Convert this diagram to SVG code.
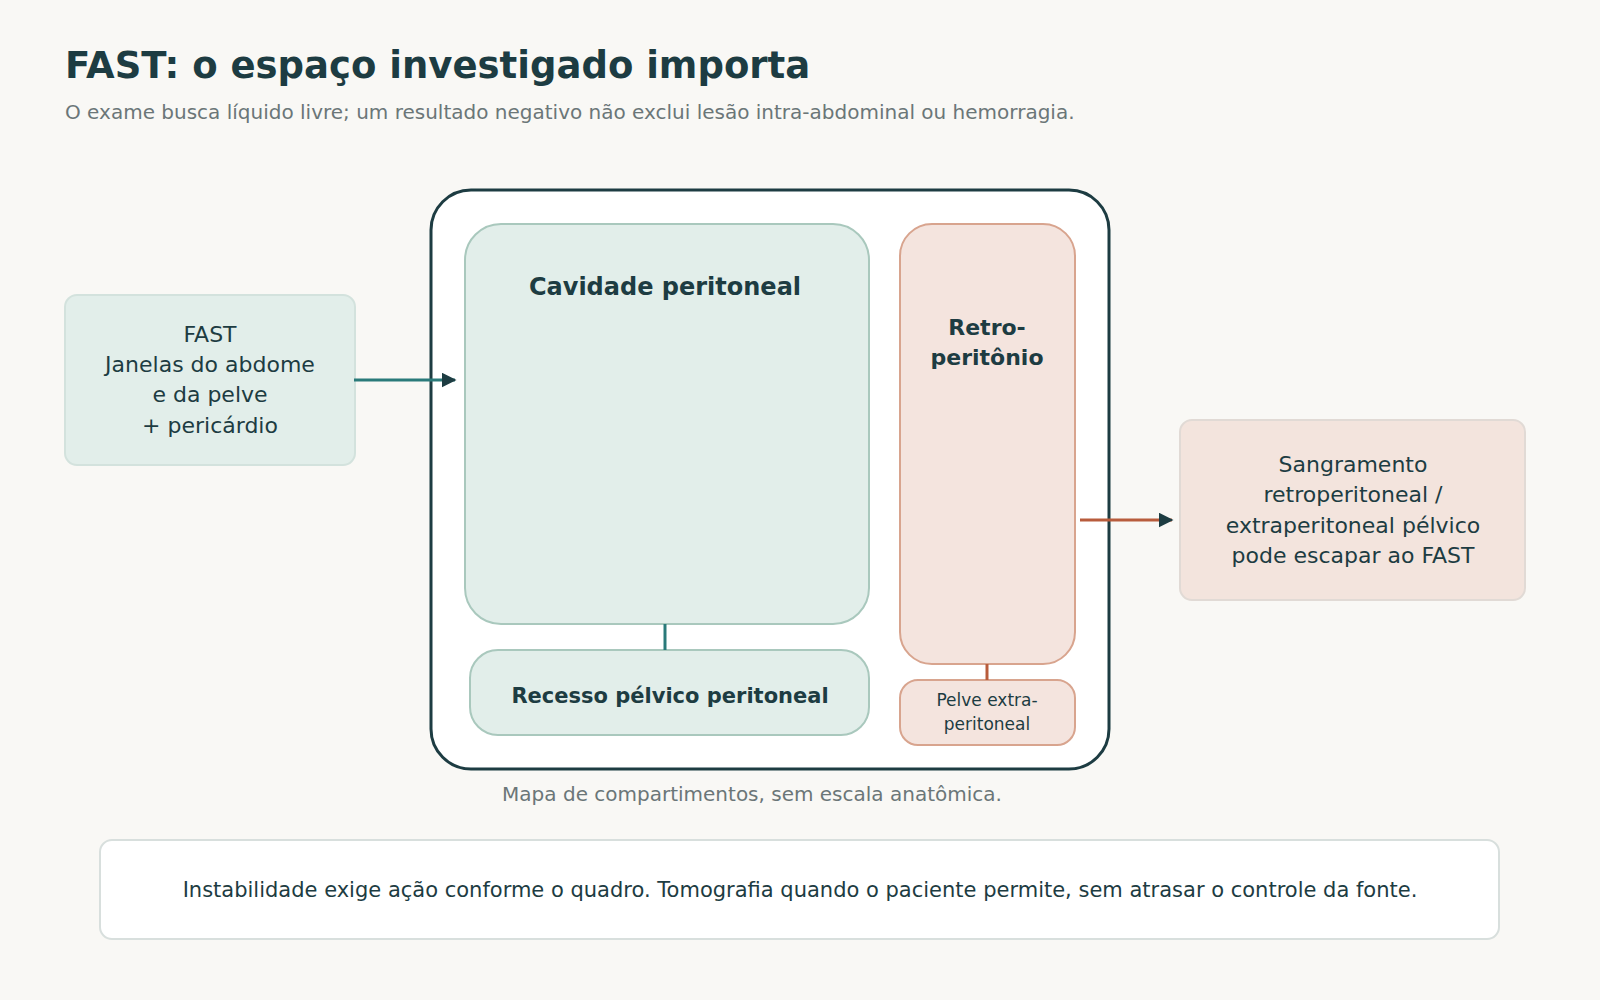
<svg xmlns="http://www.w3.org/2000/svg" width="1600" height="1000" viewBox="0 0 1600 1000">
<defs>
<style>
text{font-family:"DejaVu Sans","Noto Sans",sans-serif;fill:#1d3c42}
.b{font-weight:bold}
.c{text-anchor:middle}
.g{fill:#6b7678}
.teal{fill:#e2eeea;stroke:#a9c8bd;stroke-width:2}
.rose{fill:#f4e4de;stroke:#d8a48e;stroke-width:2}
</style>
<marker id="at" viewBox="0 0 10 10" refX="9" refY="5" markerWidth="5" markerHeight="5" orient="auto"><path d="M0,0L10,5L0,10z" fill="#1d3c42"/></marker>
</defs>
<rect width="1600" height="1000" fill="#f9f8f5"/>
<text x="65" y="78" class="b" font-size="37">FAST: o espaço investigado importa</text>
<text x="65" y="119" class="g" font-size="20">O exame busca líquido livre; um resultado negativo não exclui lesão intra-abdominal ou hemorragia.</text>
<g id="outer"><rect x="431" y="190" width="678" height="579" rx="40" fill="#fff" stroke="#1d3c42" stroke-width="3"/></g>
<g id="cavidade"><rect x="465" y="224" width="404" height="400" rx="36" class="teal"/><text x="665" y="295" class="b c" font-size="24">Cavidade peritoneal</text></g>
<g id="recesso"><rect x="470" y="650" width="399" height="85" rx="28" class="teal"/><text x="670" y="703" class="b c" font-size="21">Recesso pélvico peritoneal</text></g>
<g id="retro"><rect x="900" y="224" width="175" height="440" rx="32" class="rose"/><text x="987" y="335" class="b c" font-size="22">Retro-</text><text x="987" y="365" class="b c" font-size="22">peritônio</text></g>
<g id="pelve"><rect x="900" y="680" width="175" height="65" rx="18" class="rose"/><text x="987" y="706" class="c" font-size="17">Pelve extra-</text><text x="987" y="730" class="c" font-size="17">peritoneal</text></g>
<g id="fast"><rect x="65" y="295" width="290" height="170" rx="12" fill="#e2eeea" stroke="#d3e2dd" stroke-width="2"/>
<text class="c" font-size="22"><tspan x="210" y="342">FAST</tspan><tspan x="210" y="372">Janelas do abdome</tspan><tspan x="210" y="402">e da pelve</tspan><tspan x="210" y="433">+ pericárdio</tspan></text></g>
<g id="sangramento"><rect x="1180" y="420" width="345" height="180" rx="12" fill="#f3e4dd" stroke="#e1dad5" stroke-width="2"/>
<text class="c" font-size="22"><tspan x="1353" y="472">Sangramento</tspan><tspan x="1353" y="502">retroperitoneal /</tspan><tspan x="1353" y="533">extraperitoneal pélvico</tspan><tspan x="1353" y="563">pode escapar ao FAST</tspan></text></g>
<g id="connectors" fill="none" stroke-width="3">
<line x1="354" y1="380" x2="455" y2="380" stroke="#2a7a7a" marker-end="url(#at)"/>
<line x1="1080" y1="520" x2="1172" y2="520" stroke="#b85c3c" marker-end="url(#at)"/>
<line x1="665" y1="624" x2="665" y2="650" stroke="#2a7a7a"/>
<line x1="987" y1="664" x2="987" y2="680" stroke="#b85c3c"/>
</g>
<text x="752" y="801" class="g c" font-size="20">Mapa de compartimentos, sem escala anatômica.</text>
<g id="note"><rect x="100" y="840" width="1399" height="99" rx="12" fill="#fff" stroke="#d8dfdd" stroke-width="2"/>
<text x="800" y="897" class="c" font-size="21">Instabilidade exige ação conforme o quadro. Tomografia quando o paciente permite, sem atrasar o controle da fonte.</text></g>
</svg>
